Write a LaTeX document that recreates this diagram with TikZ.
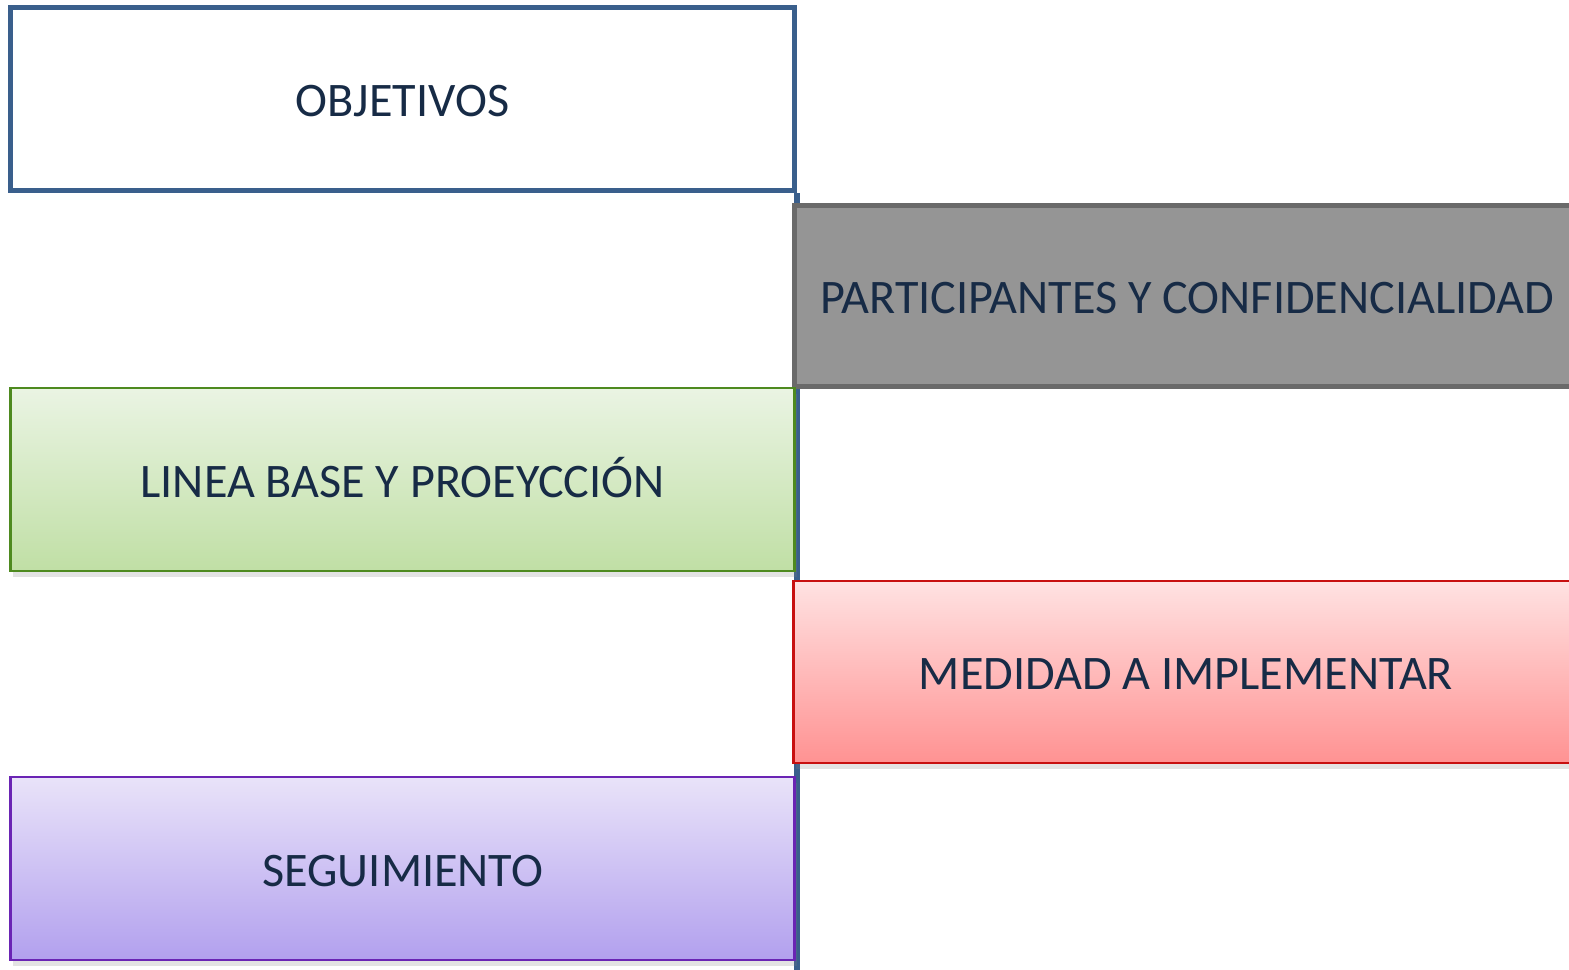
\documentclass[tikz,border=0pt]{standalone}
\usepackage{fontspec}
\setmainfont{Carlito}
\usetikzlibrary{shadows}
\definecolor{txtblue}{RGB}{23,43,70}
\definecolor{objblue}{RGB}{58,95,140}
\definecolor{grayfill}{RGB}{149,149,149}
\definecolor{grayline}{RGB}{106,106,106}
\definecolor{greenline}{RGB}{78,138,31}
\definecolor{redline}{RGB}{200,16,16}
\definecolor{purpline}{RGB}{106,36,180}
\tikzset{
  stage/.style={rectangle, minimum width=78.35mm, minimum height=18.3mm,
    text=txtblue, font=\fontsize{13.7}{16}\selectfont, inner sep=0pt,
    text height=4mm, text depth=0.5mm},
  shade/.style={drop shadow={opacity=0.22, shadow xshift=0.25mm, shadow yshift=-0.6mm}},
  spine/.style={draw=objblue, line width=1.45pt}
}

\begin{document}
\begin{tikzpicture}[x=0.01cm, y=-0.01cm]
  %%%%% frame %%%%%
  \useasboundingbox (0,0) rectangle (1569,970);
  \clip (0,0) rectangle (1569,970);

  \node[stage, draw=objblue, line width=1.45pt, fill=white] (obj) at (402.5,99) {OBJETIVOS};
  \coordinate (foot) at (794,975);
  \draw[spine] (obj.south east) -- (obj.south east |- foot);

  \node[stage, draw=grayline, line width=1.45pt, fill=grayfill, minimum width=78.5mm,
    minimum height=18.15mm] (part) at (1187,296) {PARTICIPANTES Y CONFIDENCIALIDAD};

  \node[stage, shade, draw=greenline, line width=0.8pt, top color={rgb,255:red,234;green,244;blue,227},
    bottom color={rgb,255:red,192;green,223;blue,165}] (linea) at (402.7,479.5) {LINEA BASE Y PROEYCCIÓN};

  \node[stage, shade, draw=redline, line width=0.8pt, top color={rgb,255:red,255;green,226;blue,226},
    bottom color={rgb,255:red,255;green,146;blue,146}, minimum width=78.4mm,
    minimum height=18.2mm] (medida) at (1186,672) {MEDIDAD A IMPLEMENTAR};

  \node[stage, shade, draw=purpline, line width=0.8pt, top color={rgb,255:red,233;green,227;blue,249},
    bottom color={rgb,255:red,178;green,160;blue,238}] (segui) at (402.7,868.5) {SEGUIMIENTO};
\end{tikzpicture}
\end{document}
